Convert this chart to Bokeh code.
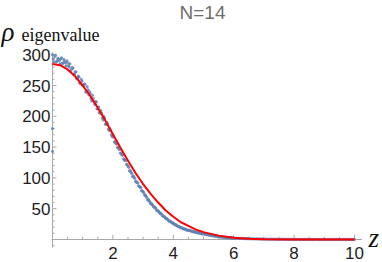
from bokeh.plotting import figure
from bokeh.models import ColumnDataSource, Range1d
from bokeh.core.properties import value
from bokeh.embed import file_html
from bokeh.resources import INLINE

title_text = "N=14"
x_label = "z"
y_label_main = "ρ"
y_label_sub = "eigenvalue"

x_major_ticks = [2, 4, 6, 8, 10]
x_tick_labels = ["2", "4", "6", "8", "10"]
x_minor_ticks = [0.5, 1.0, 1.5, 2.5, 3.0, 3.5, 4.5, 5.0, 5.5, 6.5, 7.0, 7.5,
                 8.5, 9.0, 9.5]
y_major_ticks = [50, 100, 150, 200, 250, 300]
y_tick_labels = ["50", "100", "150", "200", "250", "300"]
y_minor_ticks = [-10, 10, 20, 30, 40, 60, 70, 80, 90, 110, 120, 130, 140, 160,
                 170, 180, 190, 210, 220, 230, 240, 260, 270, 280, 290]

# fitted density (red curve)
fit_z = [0.0, 0.25, 0.5, 0.75, 1.0, 1.25, 1.5, 1.75, 2.0, 2.25, 2.5, 2.75,
         3.0, 3.25, 3.5, 3.75, 4.0, 4.25, 4.5, 4.75, 5.0, 5.5, 6.0, 6.5,
         7.0, 8.0, 9.0, 10.0]
fit_rho = [285, 283, 276, 265, 250, 233, 214, 193, 171, 149, 128, 108,
           90, 74, 60, 47, 37, 28, 22, 16, 12, 6.3, 3.0, 1.3,
           0.5, 0.1, 0.0, 0.0]

# sampled eigenvalue density (blue points), first sweep
sample_z_a = [
    0.0, 0.0, 0.0,
    0.025, 0.075, 0.125, 0.175, 0.225, 0.275, 0.325, 0.375, 0.425, 0.475,
    0.525, 0.575, 0.625, 0.675, 0.725, 0.775, 0.825, 0.875, 0.925, 0.975,
    1.025, 1.075, 1.125, 1.175, 1.225, 1.275, 1.325, 1.375, 1.425, 1.475,
    1.525, 1.575, 1.625, 1.675, 1.725, 1.775, 1.825, 1.875, 1.925, 1.975,
    2.025, 2.075, 2.125, 2.175, 2.225, 2.275, 2.325, 2.375, 2.425, 2.475,
    2.525, 2.575, 2.625, 2.675, 2.725, 2.775, 2.825, 2.875, 2.925, 2.975,
    3.025, 3.075, 3.125, 3.175, 3.225, 3.275, 3.325, 3.375, 3.425, 3.475,
    3.525, 3.575, 3.625, 3.675, 3.725, 3.775, 3.825, 3.875, 3.925, 3.975,
    4.025, 4.075, 4.125, 4.175, 4.225, 4.275, 4.325, 4.375, 4.425, 4.475,
    4.525, 4.575, 4.625, 4.675, 4.725, 4.775, 4.825, 4.875, 4.925, 4.975,
    5.025, 5.075, 5.125, 5.175, 5.225, 5.275, 5.325, 5.375, 5.425, 5.475,
    5.525, 5.575, 5.625, 5.675, 5.725, 5.775, 5.825, 5.875, 5.925, 5.975,
    6.05, 6.15, 6.25, 6.35, 6.45, 6.55, 6.65, 6.75, 6.85, 6.95,
    7.05, 7.15, 7.25, 7.35, 7.45, 7.55, 7.65, 7.75, 7.85, 7.95,
    8.05, 8.15, 8.25, 8.35, 8.45, 8.55, 8.65, 8.75, 8.85, 8.95,
    9.05, 9.15, 9.25, 9.35, 9.45, 9.55, 9.65, 9.75, 9.85, 9.95,
]
sample_rho_a = [
    143, 180, 300,
    293, 297, 288, 294, 290, 293, 286, 292, 287, 290,
    282, 285, 276, 278, 268, 272, 262, 264, 253, 257,
    249, 252, 239, 243, 240, 229, 234, 223, 224, 212,
    215, 205, 205, 194, 197, 187, 187, 177, 177, 167,
    166, 159, 155, 150, 146, 140, 137, 129, 128, 121,
    117, 112, 107, 103, 99, 94, 92, 86, 84, 79,
    76, 72, 68, 65, 61, 58, 55, 52, 50, 47,
    45, 42, 40, 38, 36, 34, 32, 30, 29, 27,
    25.5, 24, 22, 21, 19.5, 18.6, 17.4, 16.8, 15.5, 14.8,
    15, 14, 13.3, 12.5, 12, 11.2, 10.8, 10, 9.6, 9.2,
    8.7, 8.2, 7.7, 7.2, 6.8, 6.3, 5.9, 5.5, 5.2, 4.8,
    4.3, 4.0, 3.7, 3.5, 3.2, 3.0, 2.8, 2.6, 2.4, 2.2,
    2.0, 1.8, 1.9, 1.5, 1.4, 1.3, 1.1, 1.0, 0.9, 0.9,
    0.7, 0.6, 0.6, 0.5, 0.4, 0.4, 0.3, 0.3, 0.2, 0.2,
    0.2, 0.1, 0.1, 0.1, 0.1, 0.1, 0.0, 0.1, 0.0, 0.0,
    0.0, 0.0, 0.0, 0.0, 0.0, 0.0, 0.0, 0.0, 0.0, 0.0,
]

# second sweep of the sampled density
sample_z_b = [
    0.05, 0.10, 0.15, 0.20, 0.25, 0.30, 0.35, 0.40, 0.45, 0.50,
    0.55, 0.60, 0.65, 0.70, 0.75, 0.80, 0.85, 0.90, 0.95, 1.00,
    1.05, 1.10, 1.15, 1.20, 1.25, 1.30, 1.35, 1.40, 1.45, 1.50,
    1.55, 1.60, 1.65, 1.70, 1.75, 1.80, 1.85, 1.90, 1.95, 2.00,
    2.05, 2.10, 2.15, 2.20, 2.25, 2.30, 2.35, 2.40, 2.45, 2.50,
    2.55, 2.60, 2.65, 2.70, 2.75, 2.80, 2.85, 2.90, 2.95, 3.00,
    3.05, 3.10, 3.15, 3.20, 3.25, 3.30, 3.35, 3.40, 3.45, 3.50,
    3.55, 3.60, 3.65, 3.70, 3.75, 3.80, 3.85, 3.90, 3.95, 4.00,
    4.05, 4.10, 4.15, 4.20, 4.25, 4.30, 4.35, 4.40, 4.45, 4.50,
    4.55, 4.60, 4.65, 4.70, 4.75, 4.80, 4.85, 4.90, 4.95, 5.00,
    5.05, 5.10, 5.15, 5.20, 5.25, 5.30, 5.35, 5.40, 5.45, 5.50,
    5.55, 5.60, 5.65, 5.70, 5.75, 5.80, 5.85, 5.90, 5.95, 6.00,
    6.1, 6.2, 6.3, 6.4, 6.5, 6.6, 6.7, 6.8, 6.9, 7.0,
    7.1, 7.2, 7.3, 7.4, 7.5, 7.6, 7.7, 7.8, 7.9, 8.0,
    8.1, 8.2, 8.3, 8.4, 8.5, 8.6, 8.7, 8.8, 8.9, 9.0,
    9.1, 9.2, 9.3, 9.4, 9.5, 9.6, 9.7, 9.8, 9.9, 10.0,
]
sample_rho_b = [
    288, 299, 290, 293, 285, 295, 286, 289, 282, 287,
    280, 273, 279, 268, 272, 261, 265, 254, 260, 250,
    252, 240, 248, 235, 237, 225, 229, 219, 223, 212,
    206, 209, 197, 200, 187, 190, 179, 180, 170, 169,
    158, 156, 149, 147, 140, 137, 131, 129, 122, 119,
    111, 109, 102, 101, 94, 92, 87, 85, 79, 77,
    72, 70, 64, 63, 58, 57, 53, 52, 47, 46,
    43, 42, 38, 37, 34, 33, 30, 29, 27, 26,
    24, 23.4, 21.5, 21, 19.2, 18.8, 17.3, 17, 15.6, 15.1,
    14.2, 13.6, 12.9, 12.4, 11.8, 11.1, 10.9, 10.2, 9.4, 9.5,
    8.9, 8.4, 8.0, 7.4, 7.0, 6.6, 6.1, 5.8, 5.3, 5.0,
    4.5, 4.2, 4.0, 3.7, 3.4, 3.2, 2.9, 2.7, 2.5, 2.3,
    1.9, 1.7, 1.5, 1.3, 1.2, 1.0, 0.9, 0.8, 0.7, 0.6,
    0.5, 0.5, 0.4, 0.3, 0.3, 0.3, 0.2, 0.2, 0.2, 0.1,
    0.1, 0.1, 0.1, 0.1, 0.0, 0.0, 0.1, 0.0, 0.0, 0.0,
    0.0, 0.0, 0.0, 0.0, 0.0, 0.0, 0.0, 0.0, 0.0, 0.0,
]

W, H = 382, 262
# pixel geometry of the plotting area (origin at x=52, y=239 px)
PX_X, PX_Y = 30.2, 0.616
X0_PX, Y0_PX = 52.0, 239.0
x_start = -X0_PX / PX_X
x_end = (W - X0_PX) / PX_X
y_end = Y0_PX / PX_Y
y_start = -(H - Y0_PX) / PX_Y


def zx(px):
    return (px - X0_PX) / PX_X


def vy(py):
    return (Y0_PX - py) / PX_Y


AXIS = "#a8a8a8"
LABEL = "#1e1e1e"
FONT = "Liberation Sans"
SERIF = "Liberation Serif"

p = figure(width=W, height=H, output_backend="svg", toolbar_location=None,
           x_range=Range1d(x_start, x_end), y_range=Range1d(y_start, y_end),
           x_axis_type=None, y_axis_type=None, min_border=0)
p.outline_line_color = None
p.grid.visible = False
p.background_fill_color = "white"
p.border_fill_color = "white"

# axes crossing at the origin
p.segment(x0=[0, -0.03], y0=[-13, 0], x1=[0, 10.25], y1=[304, 0],
          line_color=AXIS, line_width=1)

# x ticks (pointing up from the axis)
xminor = ColumnDataSource(dict(x=x_minor_ticks, y0=[0] * len(x_minor_ticks),
                               y1=[4.5] * len(x_minor_ticks)))
p.segment(x0="x", y0="y0", x1="x", y1="y1", source=xminor, line_color=AXIS)
xmajor = ColumnDataSource(dict(x=x_major_ticks, y0=[0] * len(x_major_ticks),
                               y1=[7.5] * len(x_major_ticks),
                               ly=[vy(252.5)] * len(x_major_ticks),
                               t=x_tick_labels))
p.segment(x0="x", y0="y0", x1="x", y1="y1", source=xmajor, line_color=AXIS)
p.text(x="x", y="ly", text="t", source=xmajor, text_align="center",
       text_baseline="middle", text_font=value(FONT),
       text_font_size="17px", text_color=LABEL)

# y ticks (pointing right from the axis)
yminor = ColumnDataSource(dict(y=y_minor_ticks, x0=[0] * len(y_minor_ticks),
                               x1=[0.07] * len(y_minor_ticks)))
p.segment(x0="x0", y0="y", x1="x1", y1="y", source=yminor, line_color=AXIS)
ymajor = ColumnDataSource(dict(y=y_major_ticks, x0=[0] * len(y_major_ticks),
                               x1=[0.13] * len(y_major_ticks),
                               lx=[zx(50)] * len(y_major_ticks),
                               t=y_tick_labels))
p.segment(x0="x0", y0="y", x1="x1", y1="y", source=ymajor, line_color=AXIS)
p.text(x="lx", y="y", text="t", source=ymajor, text_align="right",
       text_baseline="middle", text_font=value(FONT),
       text_font_size="17px", text_color=LABEL)

# data
p.scatter(sample_z_a, sample_rho_a, size=2.3, color="#5E81B5", alpha=0.75)
p.scatter(sample_z_b, sample_rho_b, size=2.3, color="#5E81B5", alpha=0.75)
p.line(fit_z, fit_rho, line_color="#ff0000", line_width=2)

# texts (anchored at their vertical middle)
p.text(x=[zx(202)], y=[vy(12.3)], text=[title_text], text_align="center",
       text_baseline="middle", text_font=value(FONT),
       text_font_size="19px", text_color="#6e6e6e")
p.text(x=[zx(1)], y=[vy(31)], text=[y_label_main], text_align="left",
       text_baseline="middle", text_font=value(SERIF),
       text_font_style="italic", text_font_size="27px", text_color="#111111")
p.text(x=[zx(21)], y=[vy(34)], text=[y_label_sub], text_align="left",
       text_baseline="middle", text_font=value(SERIF),
       text_font_size="18px", text_color="#111111")
p.text(x=[zx(368)], y=[vy(237)], text=[x_label], text_align="left",
       text_baseline="middle", text_font=value(SERIF),
       text_font_style="italic", text_font_size="27px", text_color="#111111")

open("out.html", "w").write(file_html(p, INLINE))
